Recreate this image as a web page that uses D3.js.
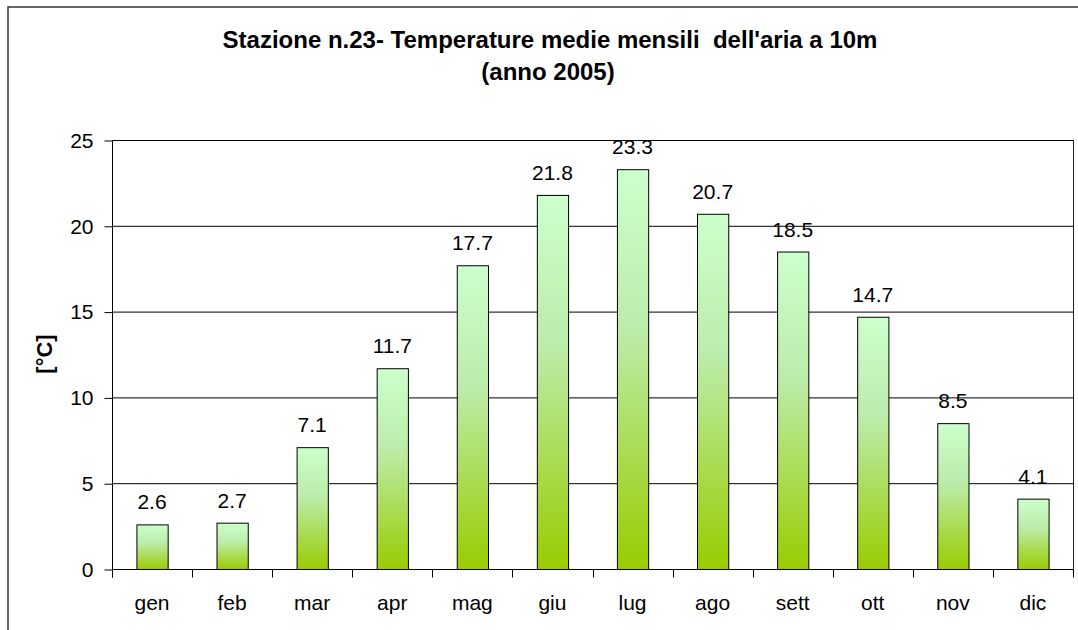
<!DOCTYPE html>
<html>
<head>
<meta charset="utf-8">
<script src="https://cdn.jsdelivr.net/npm/d3@7"></script>
<style>
  body { margin: 0; background: #fff; }
  text { font-family: Arial, "Liberation Sans", sans-serif; }
</style>
</head>
<body>
<div id="viz-container"></div>
<script>
// data
let months = ['gen','feb','mar','apr','mag','giu','lug','ago','sett','ott','nov','dic'];
let temps = [2.6, 2.7, 7.1, 11.7, 17.7, 21.8, 23.3, 20.7, 18.5, 14.7, 8.5, 4.1];
let yTicks = [0, 5, 10, 15, 20, 25];

let W = 1078, H = 630;
let pLeft = 112, pRight = 1073, pTop = 140, pBottom = 569;

let svg = d3.select('#viz-container')
  .append('svg')
    .attr('width', W)
    .attr('height', H);

// gradient for bars
let grad = svg.append('defs').append('linearGradient')
  .attr('id', 'barGrad')
  .attr('x1', 0).attr('y1', 0).attr('x2', 0).attr('y2', 1);
grad.append('stop').attr('offset', '0%').attr('stop-color', '#ccffcc');
grad.append('stop').attr('offset', '40%').attr('stop-color', '#bcecaa');
grad.append('stop').attr('offset', '100%').attr('stop-color', '#99cc00');

// outer frame (cut off on right/bottom like the original)
svg.append('rect')
  .attr('x', 8).attr('y', 7)
  .attr('width', W + 20).attr('height', H + 20)
  .attr('fill', 'none')
  .attr('stroke', '#333')
  .attr('stroke-width', 1.5);

let x = d3.scaleBand()
  .domain(months)
  .range([pLeft, pRight])
  .paddingInner(0.61)
  .paddingOuter(0.305);

let y = d3.scaleLinear()
  .domain([0, 25])
  .range([pBottom, pTop]);

// gridlines
svg.append('g')
  .selectAll('line')
  .data(yTicks.filter(d => d > 0))
  .enter()
  .append('line')
    .attr('x1', pLeft).attr('x2', pRight)
    .attr('y1', d => y(d) + 0.5).attr('y2', d => y(d) + 0.5)
    .attr('stroke', '#000')
    .attr('stroke-width', 1);

// right edge line
svg.append('line')
  .attr('x1', pRight + 0.5).attr('x2', pRight + 0.5)
  .attr('y1', pTop).attr('y2', pBottom)
  .attr('stroke', '#222');

// bars
svg.append('g')
  .selectAll('rect')
  .data(temps)
  .enter()
  .append('rect')
    .attr('x', (d, i) => x(months[i]) + 0.5)
    .attr('y', d => y(d) + 0.5)
    .attr('width', x.bandwidth())
    .attr('height', d => y(0) - y(d))
    .attr('fill', 'url(#barGrad)')
    .attr('stroke', '#000')
    .attr('stroke-width', 1);

// value labels
svg.append('g')
  .selectAll('text')
  .data(temps)
  .enter()
  .append('text')
    .attr('x', (d, i) => x(months[i]) + x.bandwidth() / 2)
    .attr('y', d => y(d) - 15)
    .attr('text-anchor', 'middle')
    .attr('font-size', 21)
    .attr('fill', '#000')
    .text(d => d.toFixed(1));

// y axis
let yAxis = svg.append('g')
  .attr('transform', 'translate(' + (pLeft + 0.5) + ',0.5)')
  .call(d3.axisLeft(y).tickValues(yTicks).tickSize(8).tickPadding(11));
yAxis.select('.domain').attr('stroke', '#000').attr('d', 'M0,' + pTop + 'V' + (pBottom + 8));
yAxis.selectAll('.tick line').attr('stroke', '#000');
yAxis.selectAll('.tick text')
  .attr('font-size', 21)
  .attr('font-family', 'Arial, "Liberation Sans", sans-serif')
  .attr('fill', '#000');

// x axis (ticks between categories)
let xAxis = svg.append('g')
  .attr('transform', 'translate(0,' + (pBottom + 0.5) + ')');
xAxis.append('line')
  .attr('x1', pLeft).attr('x2', pRight + 1)
  .attr('y1', 0).attr('y2', 0)
  .attr('stroke', '#000');
let bounds = months.map(m => x(m) - x.step() * 0.305).concat([pRight]);
xAxis.selectAll('.xt')
  .data(bounds)
  .enter()
  .append('line')
    .attr('class', 'xt')
    .attr('x1', d => Math.round(d) + 0.5).attr('x2', d => Math.round(d) + 0.5)
    .attr('y1', 0).attr('y2', 8)
    .attr('stroke', '#000');
xAxis.selectAll('.xl')
  .data(months)
  .enter()
  .append('text')
    .attr('class', 'xl')
    .attr('x', d => x(d) + x.bandwidth() / 2)
    .attr('y', 40)
    .attr('text-anchor', 'middle')
    .attr('font-size', 21)
    .attr('fill', '#000')
    .text(d => d);

// y axis title
svg.append('text')
  .attr('transform', 'translate(52,354) rotate(-90)')
  .attr('text-anchor', 'middle')
  .attr('font-size', 22)
  .attr('font-weight', 'bold')
  .text('[°C]');

// chart title
svg.append('text')
  .attr('x', 550).attr('y', 48)
  .attr('text-anchor', 'middle')
  .attr('font-size', 24)
  .attr('font-weight', 'bold')
  .style('white-space', 'pre')
  .text("Stazione n.23- Temperature medie mensili  dell'aria a 10m");
svg.append('text')
  .attr('x', 548).attr('y', 80)
  .attr('text-anchor', 'middle')
  .attr('font-size', 24)
  .attr('font-weight', 'bold')
  .text('(anno 2005)');
</script>
</body>
</html>
